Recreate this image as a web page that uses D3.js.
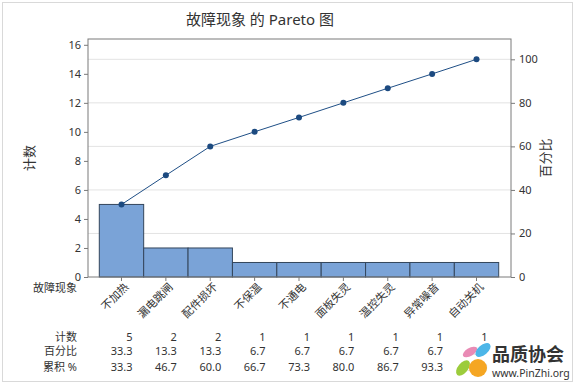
<!DOCTYPE html>
<html>
<head>
<meta charset="utf-8">
<script src="https://cdn.jsdelivr.net/npm/d3@7"></script>
<style>
  body { margin: 0; background: #fff; }
  text { font-family: "Noto Sans", "Noto Sans CJK SC", sans-serif; fill: #333; }
</style>
</head>
<body>
<div id="chart"></div>
<script>
// data
var categories = ["不加热", "漏电跳闸", "配件损坏", "不保温", "不通电", "面板失灵", "温控失灵", "异常噪音", "自动关机"];
var counts = [5, 2, 2, 1, 1, 1, 1, 1, 1];
var percents = [33.3, 13.3, 13.3, 6.7, 6.7, 6.7, 6.7, 6.7, 6.7];
var cumulative = [33.3, 46.7, 60.0, 66.7, 73.3, 80.0, 86.7, 93.3, 100.0];
var countTicks = [0, 2, 4, 6, 8, 10, 12, 14, 16];
var pctTicks = [0, 20, 40, 60, 80, 100];

var W = 576, H = 384;
var plot = {left: 88, right: 511, top: 39, bottom: 277};
var total = d3.sum(counts);

var svg = d3.select("#chart")
  .append("svg")
    .attr("width", W)
    .attr("height", H);

// outer frame
svg.append("rect")
  .attr("x", 2.5).attr("y", 2.5)
  .attr("width", W - 6).attr("height", H - 5)
  .attr("fill", "none")
  .attr("stroke", "#d9d9d9");

// title
svg.append("text")
  .attr("x", 260).attr("y", 25)
  .attr("text-anchor", "middle")
  .style("font-size", "15px")
  .text("故障现象 的 Pareto 图");

// scales
var yMax = 16.4;
var y = d3.scaleLinear().domain([0, yMax]).range([plot.bottom, plot.top]);
var yPct = d3.scaleLinear().domain([0, yMax / total * 100]).range([plot.bottom, plot.top]);
var x = d3.scaleBand().domain(categories).range([99.3, 498.7]).padding(0);

// gridlines (percent axis)
svg.append("g")
  .selectAll("line")
  .data(pctTicks.filter(d => d > 0))
  .enter()
  .append("line")
    .attr("x1", plot.left).attr("x2", plot.right)
    .attr("y1", d => yPct(d)).attr("y2", d => yPct(d))
    .attr("stroke", "#e3e3e3");

// bars
svg.selectAll("rect.bar")
  .data(counts)
  .enter()
  .append("rect")
    .attr("class", "bar")
    .attr("x", (d, i) => x(categories[i]))
    .attr("y", d => y(d))
    .attr("width", x.bandwidth())
    .attr("height", d => y(0) - y(d))
    .attr("fill", "#7aa3d7")
    .attr("stroke", "#34465c")
    .attr("stroke-width", 1);

// cumulative line
var cx = (d, i) => x(categories[i]) + x.bandwidth() / 2;
svg.append("path")
  .datum(cumulative)
  .attr("fill", "none")
  .attr("stroke", "#1f4f86")
  .attr("stroke-width", 1)
  .attr("d", d3.line().x(cx).y(d => yPct(d)));

svg.selectAll("circle.pt")
  .data(cumulative)
  .enter()
  .append("circle")
    .attr("class", "pt")
    .attr("cx", cx)
    .attr("cy", d => yPct(d))
    .attr("r", 3)
    .attr("fill", "#1c4a80");

// plot frame
svg.append("rect")
  .attr("x", plot.left).attr("y", plot.top)
  .attr("width", plot.right - plot.left)
  .attr("height", plot.bottom - plot.top)
  .attr("fill", "none")
  .attr("stroke", "#7a7a7a");

// axes
var leftAxis = svg.append("g")
  .attr("transform", "translate(" + plot.left + ",0)")
  .call(d3.axisLeft(y).tickValues(countTicks).tickSize(4).tickPadding(3));
var rightAxis = svg.append("g")
  .attr("transform", "translate(" + plot.right + ",0)")
  .call(d3.axisRight(yPct).tickValues(pctTicks).tickSize(4).tickPadding(4));
var bottomAxis = svg.append("g")
  .attr("transform", "translate(0," + plot.bottom + ")")
  .call(d3.axisBottom(x).tickSize(4).tickFormat(""));

[leftAxis, rightAxis, bottomAxis].forEach(function(a) {
  a.select(".domain").remove();
  a.selectAll("line").attr("stroke", "#7a7a7a");
  a.selectAll("text").style("font-size", "11px").attr("fill", "#333");
});

// category labels rotated
svg.append("g")
  .selectAll("text")
  .data(categories)
  .enter()
  .append("text")
    .attr("transform", d => "translate(" + (x(d) + x.bandwidth() / 2 + 5) + ",285)rotate(-45)")
    .attr("text-anchor", "end")
    .attr("dy", "0.35em")
    .style("font-size", "11px")
    .text(d => d);

svg.append("text")
  .attr("x", 77).attr("y", 292)
  .attr("text-anchor", "end")
  .style("font-size", "11px")
  .text("故障现象");

// axis titles
svg.append("text")
  .attr("transform", "translate(34,158)rotate(-90)")
  .attr("text-anchor", "middle")
  .style("font-size", "13px")
  .text("计数");
svg.append("text")
  .attr("transform", "translate(550,158)rotate(-90)")
  .attr("text-anchor", "middle")
  .style("font-size", "13px")
  .text("百分比");

// table under the chart
var rows = [
  {label: "计数", y: 341, values: counts.map(d => String(d))},
  {label: "百分比", y: 355, values: percents.map(d => d.toFixed(1))},
  {label: "累积 %", y: 371, values: cumulative.map(d => d.toFixed(1))}
];
rows.forEach(function(r) {
  svg.append("text")
    .attr("x", 77).attr("y", r.y)
    .attr("text-anchor", "end")
    .style("font-size", "11px")
    .text(r.label);
  svg.append("g")
    .selectAll("text")
    .data(r.values)
    .enter()
    .append("text")
      .attr("x", (d, i) => cx(d, i) + 11)
      .attr("y", r.y)
      .attr("text-anchor", "end")
      .style("font-size", "11px")
      .text(d => d);
});

// watermark (sits over the last column, as in the reference)
var wm = svg.append("g");
wm.append("rect").attr("x", 455).attr("y", 343).attr("width", 113).attr("height", 36).attr("fill", "#fff").attr("opacity", 0.85);
wm.append("ellipse").attr("cx", 470).attr("cy", 352).attr("rx", 8).attr("ry", 4).attr("fill", "#e98bb5").attr("transform", "rotate(-30,470,352)");
wm.append("ellipse").attr("cx", 483).attr("cy", 350).attr("rx", 9).attr("ry", 5).attr("fill", "#4cb6e8").attr("transform", "rotate(-40,483,350)");
wm.append("ellipse").attr("cx", 463).attr("cy", 368).attr("rx", 9).attr("ry", 5).attr("fill", "#9ccc3c").attr("transform", "rotate(-50,463,368)");
wm.append("circle").attr("cx", 478).attr("cy", 368).attr("r", 9).attr("fill", "#f5a623");
wm.append("text").attr("x", 492).attr("y", 361).style("font-size", "18px").style("font-weight", "bold").attr("fill", "#222").text("品质协会");
wm.append("text").attr("x", 492).attr("y", 377).style("font-size", "10.5px").attr("fill", "#222").text("www.PinZhi.org");
</script>
</body>
</html>
